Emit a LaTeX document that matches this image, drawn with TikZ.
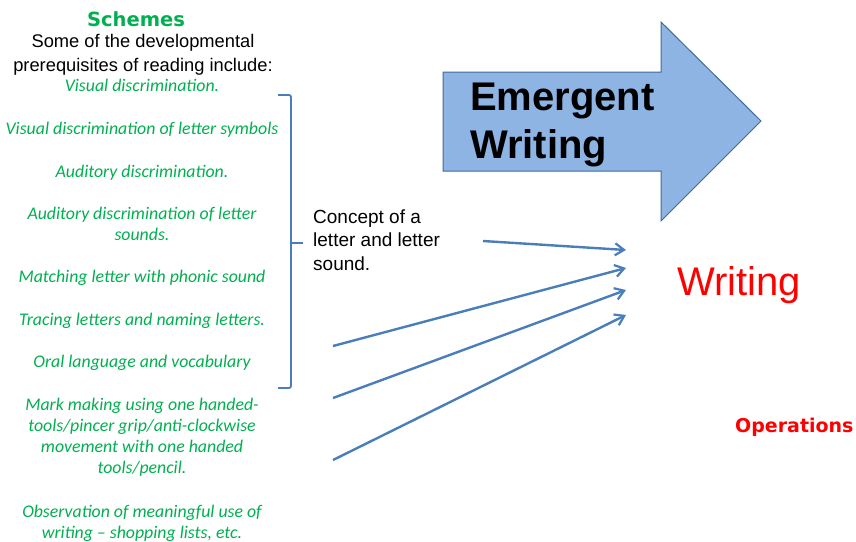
\documentclass[tikz,border=0pt]{standalone}
\usepackage{fontspec}
\setmainfont{Liberation Sans}
\newfontfamily\itemfont{Carlito}
\newfontfamily\heavyfont{DejaVu Sans}
\usetikzlibrary{arrows.meta}
\definecolor{schemegreen}{RGB}{0,176,80}
\definecolor{linkblue}{RGB}{74,126,187}
\definecolor{arrowfill}{RGB}{142,180,227}
\definecolor{arrowedge}{RGB}{65,105,155}
\tikzset{
  prereq/.style={anchor=base, align=center, text=schemegreen, inner sep=0pt,
    font=\itemfont\itshape\fontsize{17.8}{21}\selectfont},
  feed/.style={linkblue, line width=2.4pt,
    -{Straight Barb[length=9pt,width=12pt,line width=2.2pt]}},
}
\begin{document}
\begin{tikzpicture}[x=1pt, y=-1pt]
\useasboundingbox (0,0) rectangle (856,541);
% left column (base = last line)
\node[anchor=base, inner sep=0pt, text=schemegreen, font=\heavyfont\bfseries\fontsize{19.5}{22}\selectfont] (schemes) at (136,26) {Schemes};
\node[anchor=base, align=center, inner sep=0pt, font=\fontsize{18.3}{24}\selectfont] (intro) at (143,71) {Some of the developmental\\prerequisites of reading include:};
\node[prereq] (vis) at (142,91) {Visual discrimination.};
\node[prereq] (vissym) at (142,134) {Visual discrimination of letter symbols};
\node[prereq] (aud) at (142,177) {Auditory discrimination.};
\node[prereq] (audsnd) at (142,240) {Auditory discrimination of letter\\sounds.};
\node[prereq] (match) at (142,282) {Matching letter with phonic sound};
\node[prereq] (trace) at (142,325) {Tracing letters and naming letters.};
\node[prereq] (oral) at (142,367) {Oral language and vocabulary};
\node[prereq] (mark) at (142,473) {Mark making using one handed-\\tools/pincer grip/anti-clockwise\\movement with one handed\\tools/pencil.};
\node[prereq] (observe) at (142,538) {Observation of meaningful use of\\writing – shopping lists, etc.};
% bracket
\draw[linkblue, line width=1.8pt, rounded corners=2pt] (278,95) -- (291,95) -- (291,388) -- (278,388);
\draw[linkblue, line width=1.8pt] (291,243) -- (303,243);
\node[anchor=base west, align=left, inner sep=0pt, font=\fontsize{19}{23.5}\selectfont] (concept) at (313,270) {Concept of a\\letter and letter\\sound.};
% big arrow
\filldraw[fill=arrowfill, draw=arrowedge, line width=1pt] (443,72) -- (661,72) -- (661,22) -- (761,121) -- (661,221) -- (661,171) -- (443,171) -- cycle;
\node[anchor=base west, align=left, inner sep=0pt, font=\bfseries\fontsize{40}{48}\selectfont] (emergent) at (470,158) {Emergent\\Writing};
% right side
\node[anchor=base west, inner sep=0pt, text=red, font=\fontsize{40}{48}\selectfont] (writing) at (677,295) {Writing};
\node[anchor=base west, inner sep=0pt, text=red, font=\heavyfont\bfseries\fontsize{19}{22}\selectfont] (ops) at (735,432) {Operations};
% arrows
\coordinate (s1) at (483,241);
\coordinate (e1) at (626,250);
\coordinate (s2) at (333,346);
\coordinate (e2) at (626,268);
\coordinate (s3) at (333,398);
\coordinate (e3) at (626,290);
\coordinate (s4) at (333,460);
\coordinate (e4) at (626,315);
\foreach \i in {1,...,4}
  \draw[feed] (s\i) -- (e\i);
\end{tikzpicture}
\end{document}
